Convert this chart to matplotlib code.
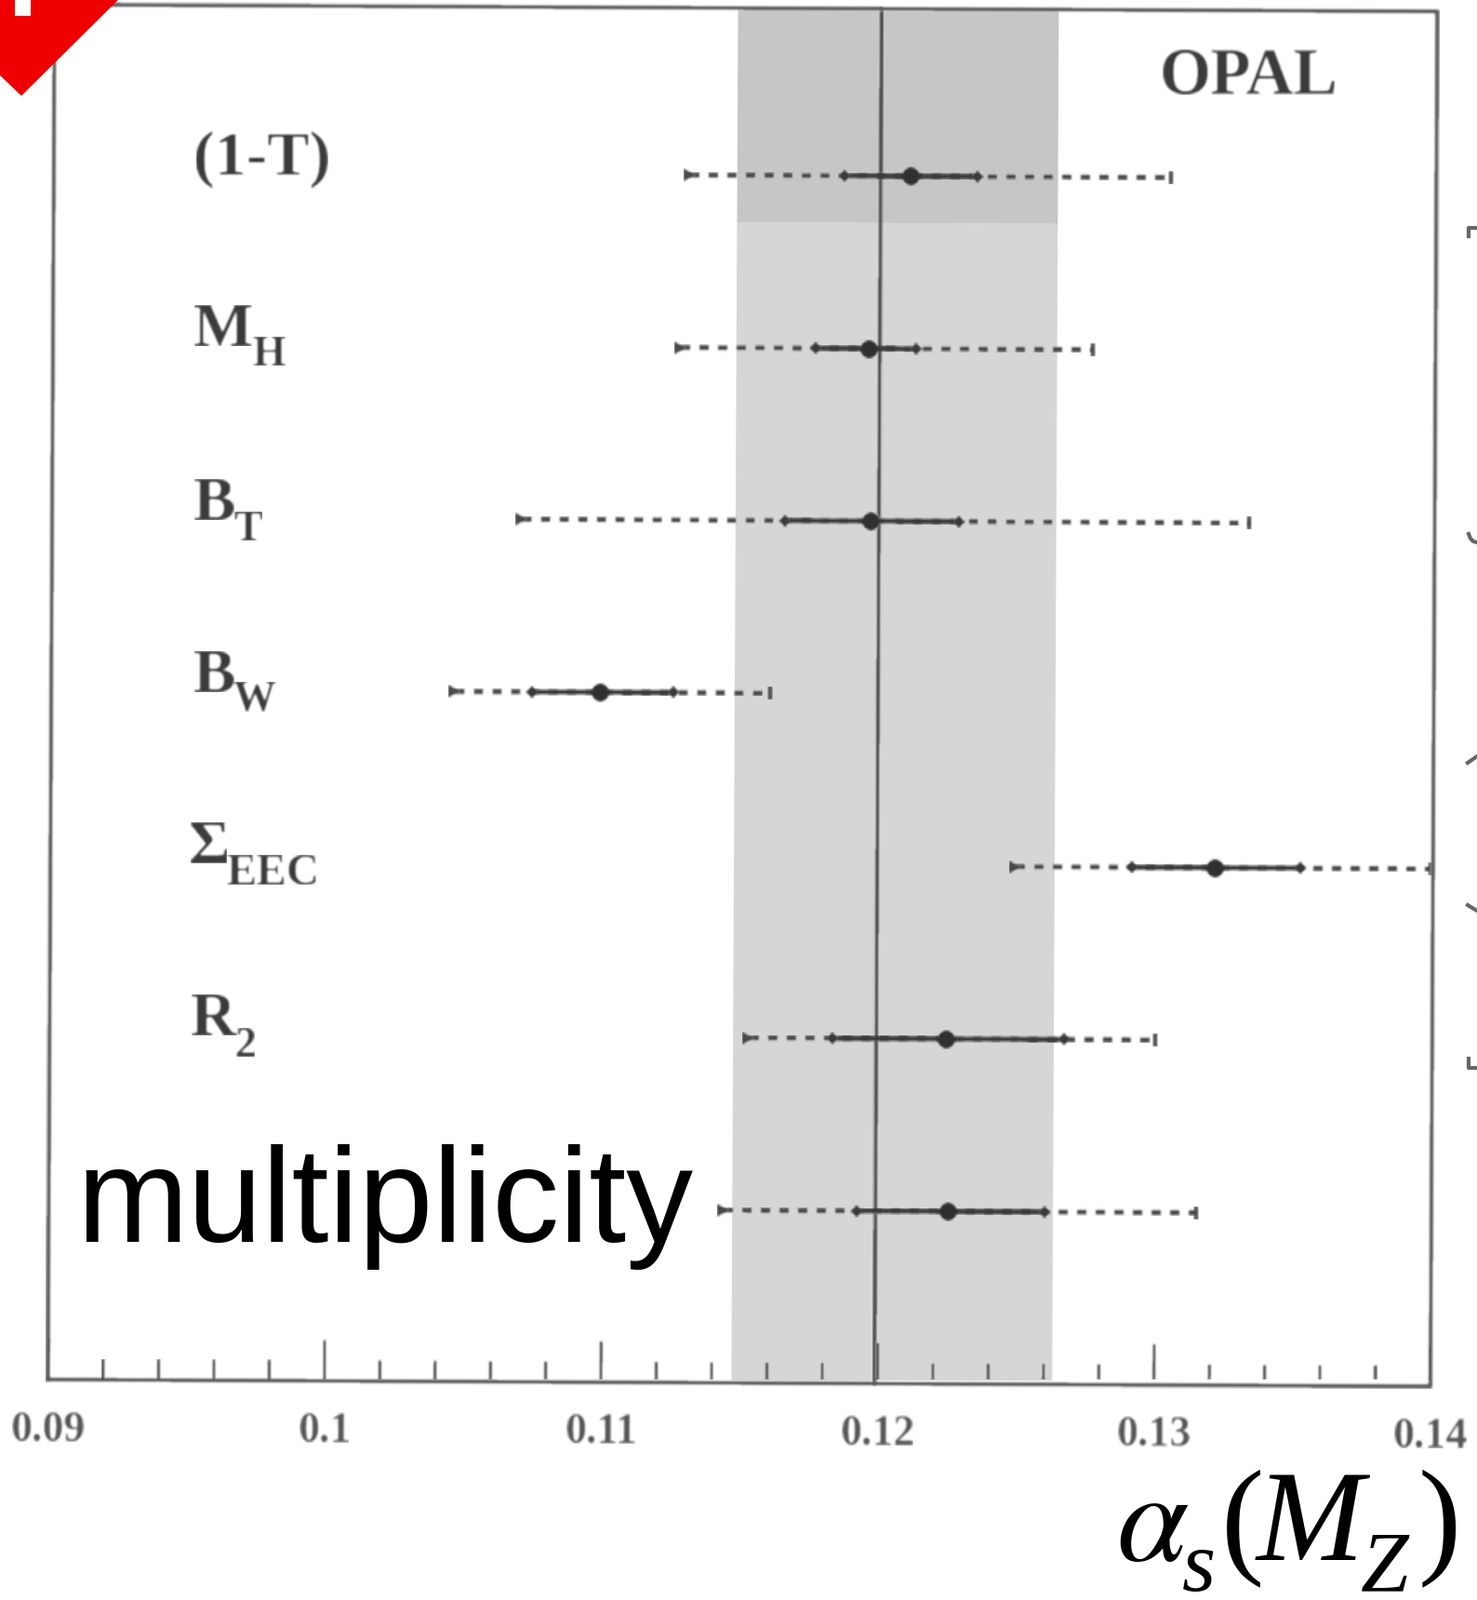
import matplotlib
matplotlib.use('Agg')
import matplotlib.pyplot as plt
import numpy as np
from matplotlib.patches import Polygon, Rectangle
from matplotlib.transforms import Affine2D

# DATA
linhas = [7, 6, 5, 4, 3, 2, 1]
total_esq = [0.1130, 0.1127, 0.1070, 0.1046, 0.1249, 0.1153, 0.1144]
stat_esq = [0.1186, 0.1176, 0.1165, 0.1074, 0.1291, 0.1183, 0.1192]
valores = [0.12100, 0.1195, 0.1196, 0.10985, 0.1321, 0.1224, 0.1225]
stat_dir = [0.1234, 0.1212, 0.1228, 0.1125, 0.1352, 0.1267, 0.1260]
total_dir = [0.1304, 0.1276, 0.1333, 0.1160, 0.1399, 0.1300, 0.1315]

media = 0.1199
banda_esq = 0.1147
banda_dir = 0.1263
banda_corte = 6.73

ticks_maiores = [0.09, 0.10, 0.11, 0.12, 0.13, 0.14]
ticks_menores = [0.092, 0.094, 0.096, 0.098, 0.102, 0.104, 0.106, 0.108,
                 0.112, 0.114, 0.116, 0.118, 0.122, 0.124, 0.126, 0.128,
                 0.132, 0.134, 0.136, 0.138]
tick_labels = ['0.09', '0.1', '0.11', '0.12', '0.13', '0.14']

W = 1588
H = 1720
plt.rcParams['mathtext.fontset'] = 'stix'

fig = plt.figure(figsize=(W / 100, H / 100), dpi=100, facecolor='white')


def fx(px):
    return px / W


def fy(py):
    return 1 - py / H


# o original e um scan borrado
def borrar(img, dpi):
    saida = img.astype(float)
    nucleo = np.array([1, 2, 3, 2, 1]) / 9
    for eixo in (0, 1):
        saida = np.apply_along_axis(lambda v: np.convolve(v, nucleo, mode='same'), eixo, saida)
    return saida, 0, 0


# eixo em pixels: 0.09 em x=51.5, 0.14 em x=1538, base em y=1483
ax = fig.add_axes([fx(51.5), fy(1483), (1538 - 51.5) / W, (1483 - 5) / H])
ax.set_xlim(0.09, 0.14)
ax.set_ylim(0, 7.97)
ax.axis('off')

# a imagem original esta levemente girada
giro = Affine2D().rotate_deg_around(51.5, H - 1483, -0.28)
tr = ax.transData + giro

# banda cinza
ax.fill_betweenx([0, banda_corte], banda_esq, banda_dir, color='#d6d6d6', lw=0, transform=tr, zorder=1)
ax.fill_betweenx([banda_corte, 7.97], banda_esq, banda_dir, color='#c6c6c6', lw=0, transform=tr, zorder=1)

# linha central
ax.plot([media, media], [0, 7.97], color='#4a4a4a', lw=3.2, transform=tr, zorder=2, clip_on=False,
        agg_filter=borrar)

# medidas
for i in range(7):
    y = linhas[i]
    ax.plot([total_esq[i], total_dir[i]], [y, y], color='#484848', lw=4, linestyle=(0, (1.9, 1.7)),
            transform=tr, zorder=3, clip_on=False, agg_filter=borrar)
    ax.plot([stat_esq[i], stat_dir[i]], [y, y], color='#3c3c3c', lw=4, transform=tr, zorder=4,
            clip_on=False, agg_filter=borrar)
    ax.plot(valores[i], y, 'o', color='#303030', ms=14, mew=0, transform=tr, zorder=5, clip_on=False,
            agg_filter=borrar)
    ax.plot(total_esq[i], y, '>', color='#484848', ms=10, mew=0, transform=tr, zorder=4, clip_on=False,
            agg_filter=borrar)
    ax.plot(total_dir[i], y, '|', color='#484848', ms=10, mew=3, transform=tr, zorder=4, clip_on=False,
            agg_filter=borrar)
    ax.plot(stat_esq[i], y, 'D', color='#3c3c3c', ms=7, mew=0, transform=tr, zorder=4, clip_on=False,
            agg_filter=borrar)
    ax.plot(stat_dir[i], y, 'D', color='#3c3c3c', ms=7, mew=0, transform=tr, zorder=4, clip_on=False,
            agg_filter=borrar)

# moldura
ax.plot([0.09, 0.14, 0.14, 0.09, 0.09], [0, 0, 7.97, 7.97, 0], color='#5e5e5e', lw=3.4,
        transform=tr, zorder=6, clip_on=False, agg_filter=borrar)

# ticks
ax.vlines(ticks_maiores, 0, 0.237, color='#484848', lw=2.6, transform=tr, zorder=6, agg_filter=borrar)
ax.vlines(ticks_menores, 0, 0.12, color='#484848', lw=2.6, transform=tr, zorder=6, agg_filter=borrar)
for t, s in zip(ticks_maiores, tick_labels):
    ax.text(t, -0.295, s, family='Liberation Serif', weight='bold', fontsize=33, color='#555555',
            ha='center', va='center', rotation=-0.28, transform=tr, clip_on=False, agg_filter=borrar)


# textos das linhas
def rotulo(px, py, s, tam):
    fig.text(fx(px), fy(py), s, family='Liberation Serif', weight='bold', fontsize=tam,
             color='#3c3c3c', ha='left', va='baseline', agg_filter=borrar)


rotulo(208, 188, '(1-T)', 49)
rotulo(208, 372, 'M', 49)
rotulo(271, 393, 'H', 33)
rotulo(208, 559, 'B', 49)
rotulo(251, 581, 'T', 33)
rotulo(208, 744, 'B', 49)
rotulo(250, 764, 'W', 33)
rotulo(203, 928, 'Σ', 49)
rotulo(243, 951, 'EEC', 35)
rotulo(205, 1113, 'R', 49)
rotulo(252, 1136, '2', 33)
rotulo(1246, 101, 'OPAL', 51)

# textos sobrepostos, nitidos
fig.text(fx(82), fy(1335), 'multiplicity', family='Liberation Sans', fontsize=103.5, color='black',
         ha='left', va='baseline')


def formula(px, py, s, tam, estilo='italic'):
    fig.text(fx(px), fy(py), s, family='Liberation Serif', style=estilo, fontsize=tam, color='black',
             ha='left', va='baseline')


fig.text(fx(1200), fy(1677), r'$\alpha$', fontsize=100, color='black', ha='left', va='baseline')
formula(1271, 1710, 's', 67)
formula(1313, 1677, '(', 100, 'normal')
formula(1351, 1677, 'M', 100)
formula(1463, 1710, 'Z', 67)
formula(1525, 1677, ')', 100, 'normal')

# marca vermelha no canto
fig.patches.append(Polygon([(fx(0), fy(0)), (fx(127), fy(0)), (fx(23), fy(103)), (fx(0), fy(81))],
                           closed=True, color='#ee0000', lw=0, transform=fig.transFigure, zorder=10))
fig.patches.append(Rectangle((fx(16), fy(17)), 17 / W, 17 / H, color='white', lw=0,
                             transform=fig.transFigure, zorder=11))

# pedacos cortados na borda direita
pedacos = [([1588, 1579, 1579], [245, 245, 254]),
           ([1579, 1581, 1584, 1588], [574, 579, 582, 583]),
           ([1578, 1588], [820, 813]),
           ([1578, 1588], [973, 979]),
           ([1579, 1579, 1588], [1138, 1148, 1148])]
for xs, ys in pedacos:
    fig.add_artist(plt.Line2D([fx(v) for v in xs], [fy(v) for v in ys], color='#666666', lw=3))

fig.savefig('out.png', dpi=100)
